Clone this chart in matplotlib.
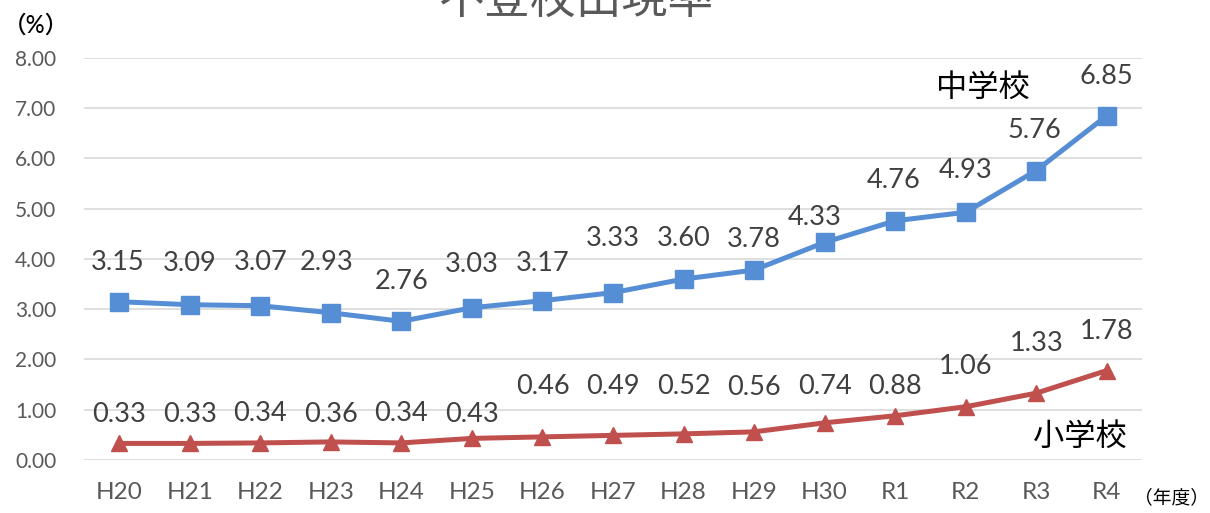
import numpy as np
import matplotlib
matplotlib.use('Agg')
import matplotlib.pyplot as plt

plt.rcParams['font.family'] = ['Lato', 'Noto Sans CJK JP', 'DejaVu Sans']

years = ['H20', 'H21', 'H22', 'H23', 'H24', 'H25', 'H26', 'H27', 'H28', 'H29',
         'H30', 'R1', 'R2', 'R3', 'R4']
junior_high = [3.15, 3.09, 3.07, 2.93, 2.76, 3.03, 3.17, 3.33, 3.60, 3.78,
               4.33, 4.76, 4.93, 5.76, 6.85]
elementary = [0.33, 0.33, 0.34, 0.36, 0.34, 0.43, 0.46, 0.49, 0.52, 0.56,
              0.74, 0.88, 1.06, 1.33, 1.78]
yticks = [0, 1, 2, 3, 4, 5, 6, 7, 8]

# label offsets in points (manually placed labels in the original)
jh_dy = [28, 30, 31, 36, 29, 31, 27, 39, 29, 22, 18, 29, 30, 29, 28]
jh_dx = [-1, 0, 0, -3, 0, 0, 0, 0, 0, 0, -7, -1, 0, -1, 0]
el_dy = [21, 21, 21, 20, 21, 17, 36, 35, 34, 32, 26, 21, 29, 36, 28]

blue = '#558ED5'
red = '#C0504D'
gray = '#595959'

fig = plt.figure(figsize=(12.1, 5.13), dpi=100)
ax = fig.add_axes([0.0694, 0.1033, 0.8744, 0.7837])

x = np.arange(len(years))
ax.plot(x, junior_high, color=blue, lw=3.6, marker='s', ms=12.5, zorder=3)
ax.plot(x, elementary, color=red, lw=3.6, marker='^', ms=12, zorder=3)

for i, v in enumerate(junior_high):
    ax.annotate('%.2f' % v, (i, v), xytext=(jh_dx[i], jh_dy[i]), textcoords='offset points',
                ha='center', va='center', fontsize=19.5, color='#404040')
for i, v in enumerate(elementary):
    ax.annotate('%.2f' % v, (i, v), xytext=(0, el_dy[i]), textcoords='offset points',
                ha='center', va='center', fontsize=19.5, color='#404040')

ax.set_xlim(-0.5, len(years) - 0.5)
ax.set_ylim(0, 8)
ax.set_yticks(yticks)
ax.set_yticklabels(['%.2f' % t for t in yticks], fontsize=15, color=gray)
ax.set_xticks(x)
ax.set_xticklabels(years, fontsize=17.5, color=gray)
ax.tick_params(length=0)
ax.tick_params(axis='y', pad=20)
ax.tick_params(axis='x', pad=16)
ax.grid(axis='y', color='#D9D9D9', lw=1.2)
ax.set_axisbelow(True)
for s in ax.spines.values():
    s.set_visible(False)

ax.text(12.25, 7.42, '中学校', fontsize=22.5, color='black', ha='center', va='center')
ax.text(13.62, 0.47, '小学校', fontsize=22.5, color='black', ha='center', va='center')

fig.text(0.030, 0.951, '（%）', fontsize=17, color='black', ha='center', va='center',
         fontweight='medium')
fig.text(0.937, 0.031, '（年度）', fontsize=13.5, color='black', ha='left', va='center')
fig.text(0.476, 0.975, '不登校出現率', fontsize=33, color=gray, ha='center', va='baseline')

fig.savefig('out.png', dpi=100)
